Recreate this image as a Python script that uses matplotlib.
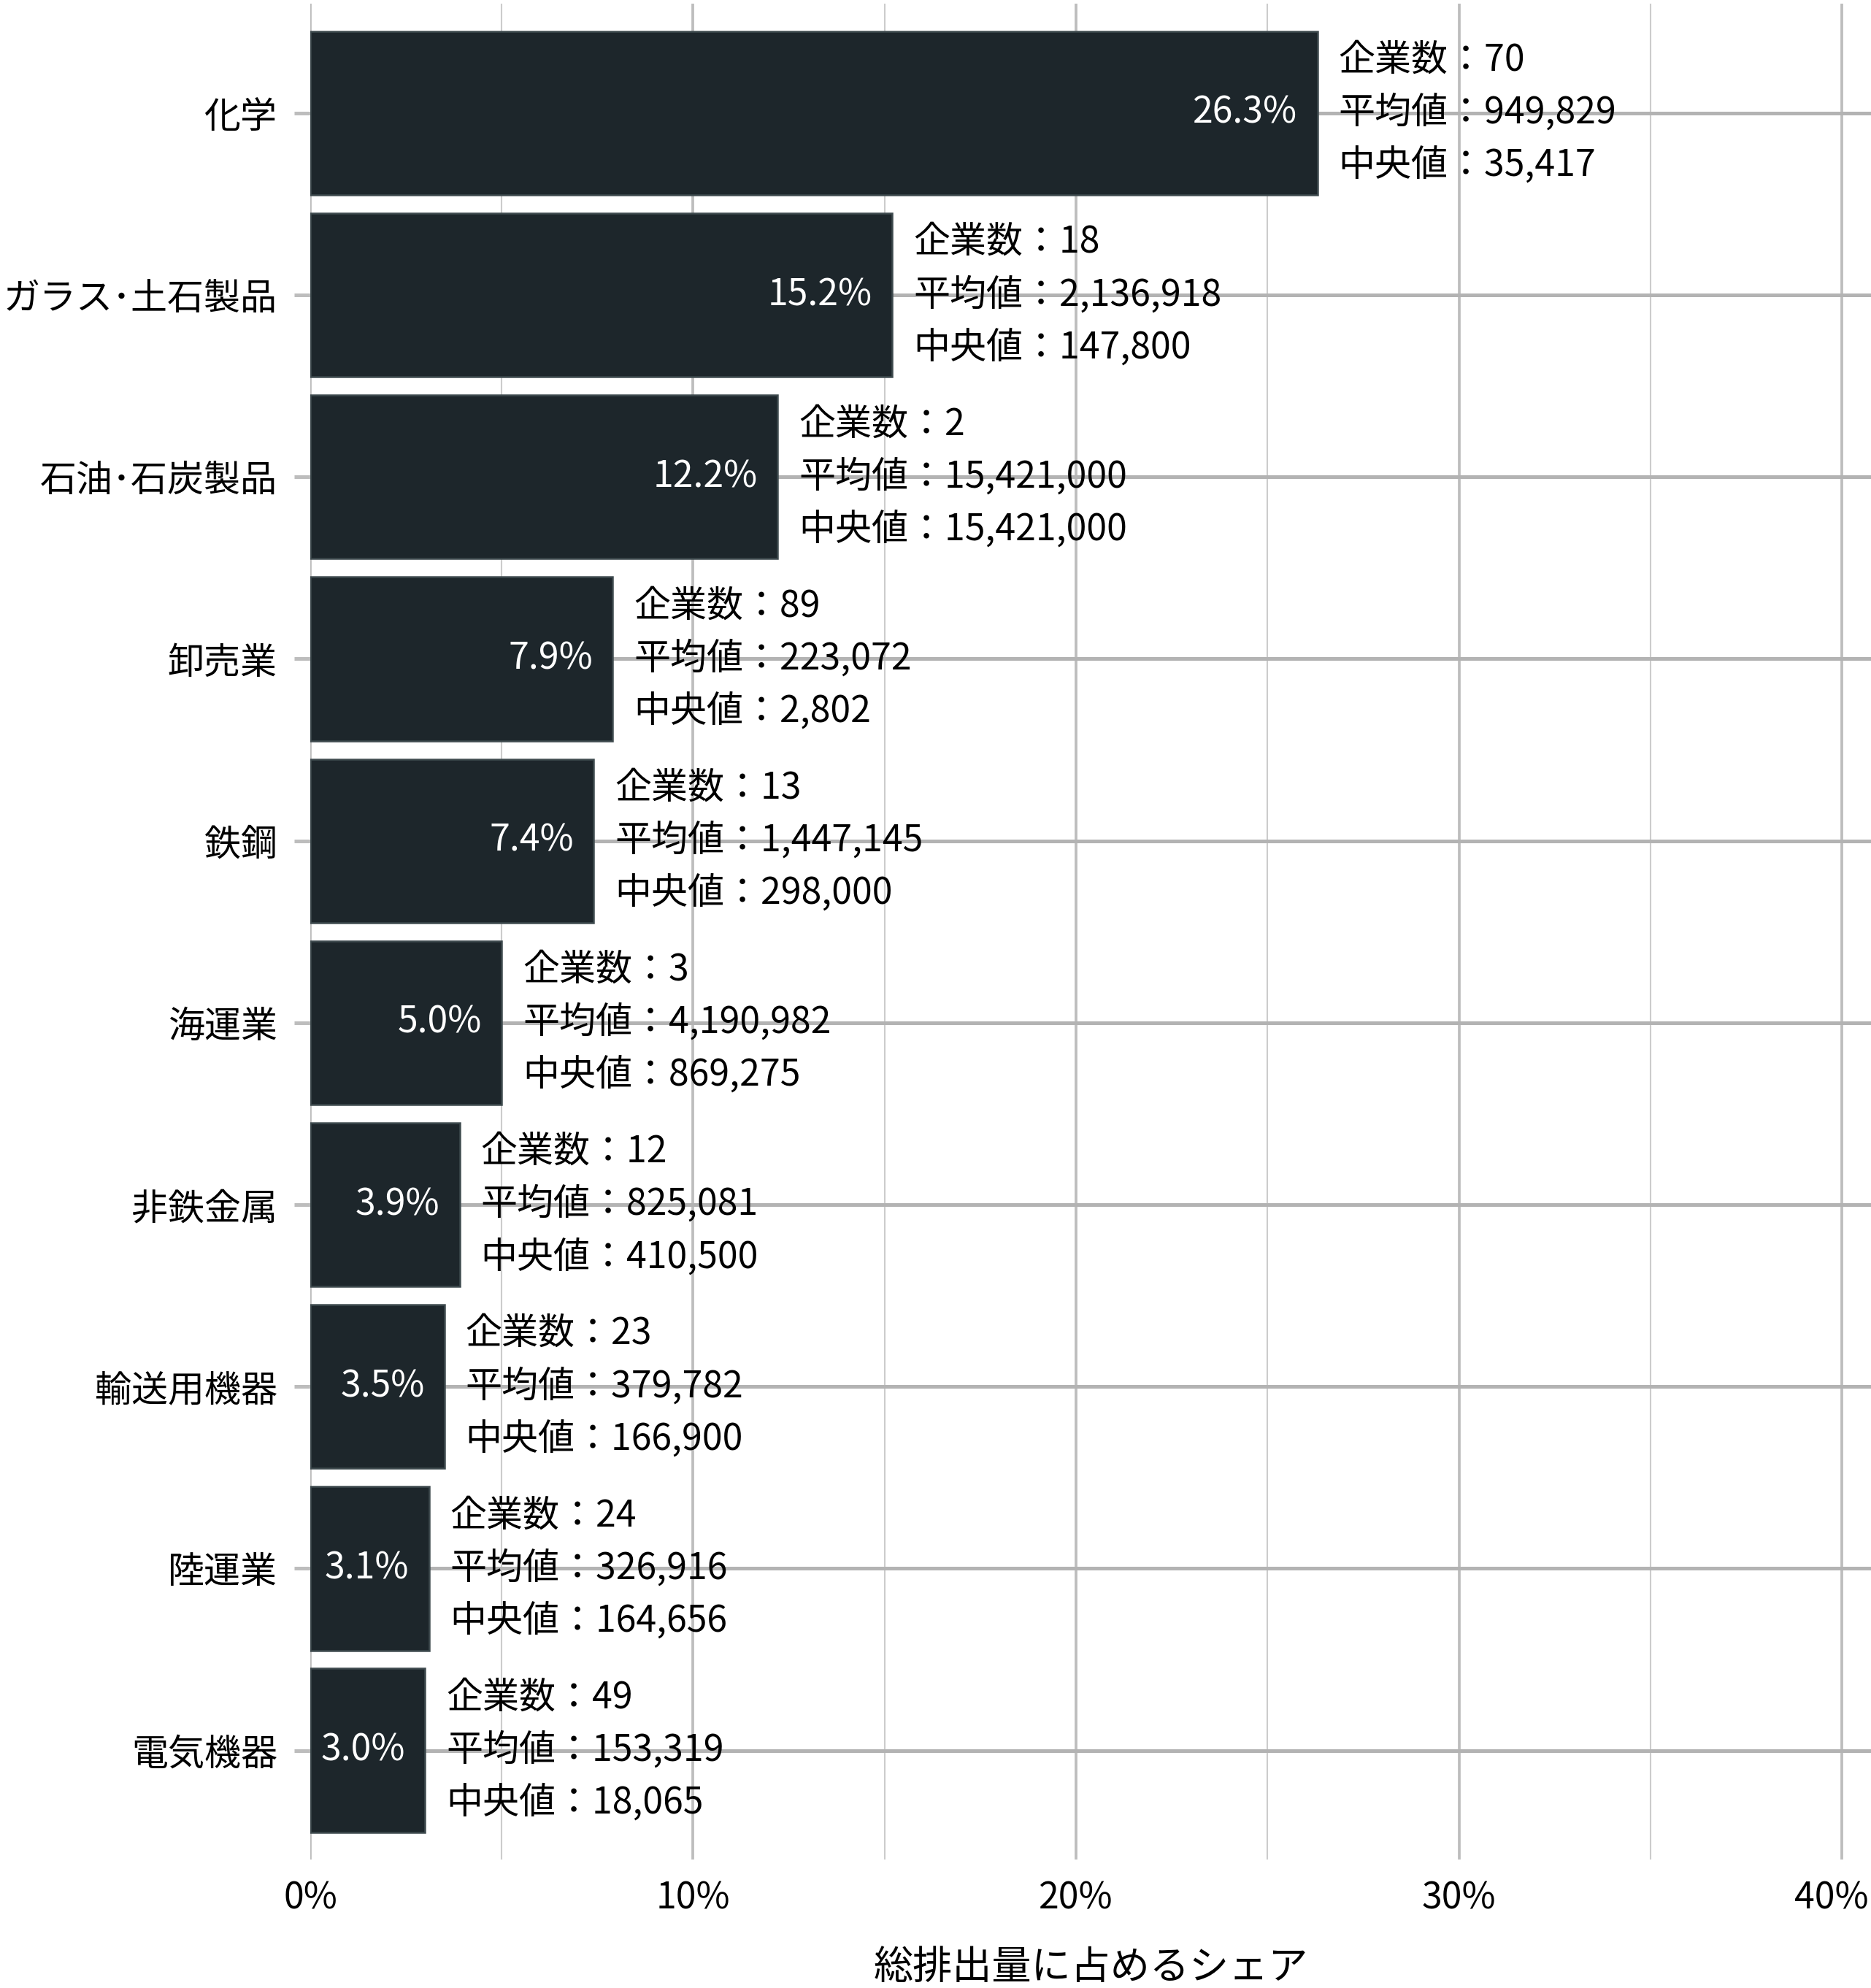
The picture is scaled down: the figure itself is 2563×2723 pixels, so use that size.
import matplotlib
matplotlib.use("Agg")
import matplotlib.pyplot as plt
import matplotlib.transforms as mtransforms
import numpy as np
from matplotlib.ticker import MultipleLocator

plt.rcParams['font.family'] = ['Noto Sans CJK JP', 'DejaVu Sans']

categories = ['化学', 'ガラス･土石製品', '石油･石炭製品', '卸売業', '鉄鋼',
              '海運業', '非鉄金属', '輸送用機器', '陸運業', '電気機器']
share = [26.3, 15.2, 12.2, 7.9, 7.4, 5.0, 3.9, 3.5, 3.1, 3.0]
n_firms = [70, 18, 2, 89, 13, 3, 12, 23, 24, 49]
mean_val = [949829, 2136918, 15421000, 223072, 1447145,
            4190982, 825081, 379782, 326916, 153319]
median_val = [35417, 147800, 15421000, 2802, 298000,
              869275, 410500, 166900, 164656, 18065]
x_ticks = [0, 10, 20, 30, 40]
x_ticklabels = ['0%', '10%', '20%', '30%', '40%']

bar_color = '#1d262b'
grid_color = '#bdbdbd'
fs = 12

fig = plt.figure(figsize=(2563 / 300, 2723 / 300), dpi=300)
ax = fig.add_axes([0.1658, 0.0646, 1 - 0.1658, 0.998 - 0.0646])

y = np.arange(len(categories))
ax.barh(y, share, height=0.9, color=bar_color, edgecolor='#3e4a4e', linewidth=0.6, zorder=2)

for yi, s, n, m, md in zip(y, share, n_firms, mean_val, median_val):
    ax.annotate(f'{s:.1f}%', (s, yi), xytext=(-6.5, 0), textcoords='offset points',
                ha='right', va='center', color='white', fontsize=fs, zorder=4)
    lines = [f'企業数：{n:,}', f'平均値：{m:,}', f'中央値：{md:,}']
    for k, txt in enumerate(lines):
        ax.annotate(txt, (s, yi), xytext=(7, (1 - k) * 17.3), textcoords='offset points',
                    ha='left', va='center', color='black', fontsize=fs, zorder=4)

ax.set_ylim(len(categories) - 0.4, -0.6)
ax.set_xlim(0, 40.76)
ax.set_yticks(y)
ax.set_yticklabels(categories, fontsize=fs)
ax.set_xticks(x_ticks)
ax.set_xticklabels(x_ticklabels, fontsize=fs)
ax.xaxis.set_minor_locator(MultipleLocator(5))
ax.tick_params(axis='x', which='both', length=0, pad=6.5)
ax.tick_params(axis='y', length=5.3, width=1.2, color=grid_color, pad=5.5)

# keep the last tick label inside the figure
last = ax.get_xticklabels()[-1]
last.set_transform(last.get_transform() +
                   mtransforms.ScaledTranslation(-3.5 / 72, 0, fig.dpi_scale_trans))

ax.set_axisbelow(True)
ax.grid(axis='y', color='#b3b3b3', linewidth=1.2)
ax.grid(axis='x', which='major', color=grid_color, linewidth=0.9)
ax.grid(axis='x', which='minor', color='#cccccc', linewidth=0.5)
for sp in ax.spines.values():
    sp.set_visible(False)

ax.set_xlabel('総排出量に占めるシェア', fontsize=13, labelpad=10)

fig.savefig('out.png', dpi=300)
